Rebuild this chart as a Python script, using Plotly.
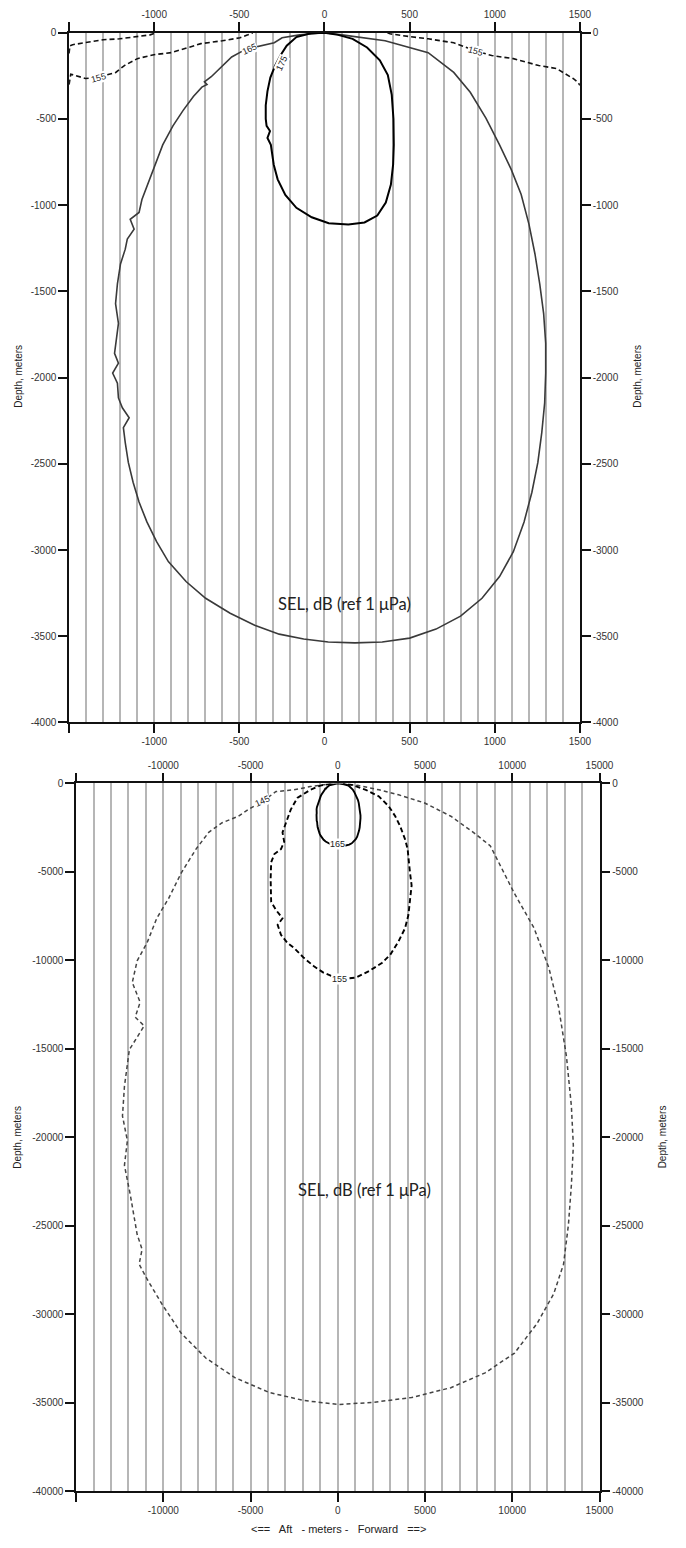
import plotly.graph_objects as go

# ---------------- upper panel: near field (metres) ----------------
# 175 dB contour (closed, solid)
x175 = [0, 80, 165, 250, 325, 372, 395, 405, 407, 403, 390, 360, 310, 235, 140, 25,
        -75, -165, -230, -275, -298, -310, -315, -335, -320, -340, -345, -345, -335,
        -318, -290, -258, -222, -165, -80, 0]
d175 = [0, -12, -35, -85, -160, -245, -360, -500, -650, -765, -880, -985, -1060, -1100,
        -1112, -1105, -1070, -1015, -940, -850, -765, -700, -650, -610, -570, -540, -500,
        -420, -340, -260, -190, -130, -75, -25, -3, 0]

# 165 dB contour (closed, solid)
x165 = [0, 103, 356, 609, 759, 856, 948, 1028, 1097, 1155, 1201, 1236, 1264, 1287, 1299,
        1299, 1293, 1276, 1253, 1218, 1172, 1109, 1028, 925, 799, 655, 500, 339, 178, 22,
        -122, -266, -410, -554, -698, -813, -917, -986, -1043, -1089, -1124, -1152, -1170,
        -1181, -1147, -1187, -1210, -1216, -1244, -1210, -1233, -1221, -1210, -1227, -1216,
        -1198, -1170, -1158, -1118, -1141, -1089, -1072, -1035, -995, -950, -890, -830,
        -770, -720, -690, -705, -665, -610, -545, -480, -421, -295, -249, -146, 0]
d165 = [0, -12, -46, -115, -230, -345, -495, -650, -794, -938, -1111, -1283, -1456, -1629,
        -1801, -1974, -2147, -2319, -2492, -2665, -2837, -3010, -3154, -3280, -3384, -3459,
        -3511, -3534, -3539, -3534, -3516, -3488, -3436, -3367, -3280, -3183, -3067, -2952,
        -2837, -2722, -2607, -2492, -2377, -2290, -2233, -2175, -2118, -2032, -1974, -1916,
        -1859, -1773, -1686, -1571, -1456, -1341, -1255, -1197, -1139, -1082, -1042, -967,
        -870, -760, -650, -540, -450, -370, -315, -300, -285, -255, -200, -140, -105, -86,
        -58, -29, -12, 0]

# 155 dB contour, surface-bounded pieces
x155_a = [-1500, -1495, -1479, -1404, -1300, -1203, -1099, -1024, -990]
d155_a = [-120, -75, -69, -58, -40, -35, -23, -12, 0]
x155_b = [-1500, -1490, -1404, -1330, -1226, -1175, -1099, -1002, -899, -824, -726,
          -600, -496, -450, -421]
d155_b = [-300, -240, -265, -259, -230, -190, -150, -127, -115, -92, -63, -46, -29, -12, 0]
x155_c = [370, 385, 506, 609, 759, 884, 982, 1109, 1258, 1362, 1460, 1489, 1500]
d155_c = [0, -6, -23, -35, -58, -104, -132, -150, -190, -207, -265, -288, -305]

# ---------------- lower panel: far field (metres) ----------------
# 145 dB contour
x145 = [-300, -657, -1573, -2511, -3540, -4309, -5135, -5697, -6629, -7399, -8129, -8972,
        -9702, -10376, -10938, -11500, -11781, -11331, -11612, -11100, -11949, -12230,
        -12343, -12062, -12230, -11893, -11500, -11218, -11387, -10938, -10095, -8972,
        -7568, -5882, -3916, -1949, 17, 1983, 4230, 6478, 8444, 10129, 11421, 12376, 12938,
        13219, 13388, 13500, 13388, 13107, 12657, 12096, 11253, 10129, 8742, 7787, 6478,
        4978, 3483, 2360, 1200, 300]
d145 = [-10, -47, -177, -363, -457, -1016, -1479, -1853, -2222, -2763, -3712, -5052, -6504,
        -7620, -9016, -10021, -11249, -12366, -13203, -13700, -15045, -17111, -18786,
        -20182, -21578, -23253, -25486, -26324, -27161, -27998, -29394, -31069, -32464,
        -33581, -34418, -34865, -35088, -34977, -34698, -34140, -33302, -32186, -30511,
        -28836, -27161, -24928, -22695, -20462, -18229, -15437, -12646, -10413, -8180,
        -6226, -3528, -2780, -1853, -1105, -642, -363, -120, -10]

# 155 dB contour
x155 = [-400, -1000, -1573, -2326, -2697, -2888, -3169, -3073, -3258, -3635, -3820, -3850,
        -3820, -3539, -3169, -3449, -3258, -2888, -2511, -1949, -1388, -826, 112, 1045,
        1798, 2545, 3011, 3483, 3854, 4045, 4135, 4230, 4135, 4045, 4000, 3854, 3573, 3292,
        2921, 2360, 1607, 800, 300]
d155 = [-20, -120, -363, -826, -1479, -2038, -2763, -3300, -3712, -3991, -4455, -5387,
        -6688, -7157, -7620, -7994, -8552, -9016, -9295, -9853, -10316, -10690, -11065,
        -10970, -10596, -10132, -9669, -8921, -8178, -7436, -6504, -5761, -5013, -4271,
        -3700, -3154, -2412, -1853, -1295, -737, -363, -80, -10]

# ---------------- tick labels ----------------
near_xticks = [-1500, -1000, -500, 0, 500, 1000, 1500]
near_xtext = ["", "-1000", "-500", "0", "500", "1000", "1500"]
near_yticks = [0, -500, -1000, -1500, -2000, -2500, -3000, -3500, -4000]
near_ytext = ["0", "-500", "-1000", "-1500", "-2000", "-2500", "-3000", "-3500", "-4000"]
far_xticks = [-15000, -10000, -5000, 0, 5000, 10000, 15000]
far_xtext = ["", "-10000", "-5000", "0", "5000", "10000", "15000"]
far_yticks = [0, -5000, -10000, -15000, -20000, -25000, -30000, -35000, -40000]
far_ytext = ["0", "-5000", "-10000", "-15000", "-20000", "-25000", "-30000", "-35000", "-40000"]

W, H = 686, 1548
GRID = "#b6b6b6"
TICKFONT = dict(family="Liberation Sans Narrow, Liberation Sans, Arial", size=10, color="#333")

fig = go.Figure()


def line(x, y, ax, color, width, dash="solid"):
    xa, ya = ax
    fig.add_trace(go.Scatter(x=x, y=y, mode="lines", xaxis=xa, yaxis=ya,
                             line=dict(color=color, width=width, dash=dash),
                             hoverinfo="skip", showlegend=False))


# upper panel
line(x155_a, d155_a, ("x", "y"), "#111", 1.6, "5px,3px")
line(x155_b, d155_b, ("x", "y"), "#111", 1.6, "5px,3px")
line(x155_c, d155_c, ("x", "y"), "#111", 1.6, "5px,3px")
line(x165, d165, ("x", "y"), "#3a3a3a", 1.6)
line(x175, d175, ("x", "y"), "#000", 2)
fig.add_trace(go.Scatter(x=[None], y=[None], xaxis="x2", yaxis="y2", showlegend=False))

# lower panel
line(x145, d145, ("x3", "y3"), "#444", 1.5, "4px,3px")
line(x155, d155, ("x3", "y3"), "#000", 1.9, "5px,3px")
line(x165, d165, ("x3", "y3"), "#000", 1.9)
fig.add_trace(go.Scatter(x=[None], y=[None], xaxis="x4", yaxis="y4", showlegend=False))


def xax(rng, dom, vals, text, grid_step, side, anchor, overlay=None):
    d = dict(range=rng, tickmode="array", tickvals=vals, ticktext=text, ticks="outside",
             ticklen=9, tickwidth=1.5, tickcolor="#111", showline=True, linecolor="#111",
             linewidth=1.5, zeroline=False, side=side, anchor=anchor, tickfont=TICKFONT,
             fixedrange=True)
    if overlay:
        d.update(overlaying=overlay, showgrid=False)
    else:
        d.update(domain=dom, showgrid=True, gridcolor=GRID, gridwidth=1.5,
                 minor=dict(tickmode="array",
                            tickvals=list(range(int(rng[0]), int(rng[1]) + 1, grid_step)),
                            showgrid=True, gridcolor=GRID, gridwidth=1.5, ticks=""))
    return d


def yax(rng, dom, vals, text, side, anchor, overlay=None):
    d = dict(range=rng, tickmode="array", tickvals=vals, ticktext=text, ticks="outside",
             ticklen=9, tickwidth=1.5, tickcolor="#111", showline=True, linecolor="#111",
             linewidth=1.5, zeroline=False, showgrid=False, side=side, anchor=anchor,
             tickfont=TICKFONT, fixedrange=True)
    if overlay:
        d.update(overlaying=overlay)
    else:
        d.update(domain=dom)
    return d


dx1 = [70.5 / W, 592 / W]
dy1 = [1 - 722 / H, 1 - 27 / H]
dx2 = [77.7 / W, 612 / W]
dy2 = [1 - 1497 / H, 1 - 783.5 / H]

fig.update_layout(
    width=W, height=H, margin=dict(l=0, r=0, t=0, b=0),
    paper_bgcolor="white", plot_bgcolor="white",
    xaxis=xax([-1500, 1500], dx1, near_xticks, near_xtext, 100, "bottom", "y"),
    xaxis2=xax([-1500, 1500], dx1, near_xticks, near_xtext, 100, "top", "y", overlay="x"),
    yaxis=yax([-4000, 0], dy1, near_yticks, near_ytext, "left", "x"),
    yaxis2=yax([-4000, 0], dy1, near_yticks, near_ytext, "right", "x", overlay="y"),
    xaxis3=xax([-15000, 15000], dx2, far_xticks, far_xtext, 1000, "bottom", "y3"),
    xaxis4=xax([-15000, 15000], dx2, far_xticks, far_xtext, 1000, "top", "y3", overlay="x3"),
    yaxis3=yax([-40000, 0], dy2, far_yticks, far_ytext, "left", "x3"),
    yaxis4=yax([-40000, 0], dy2, far_yticks, far_ytext, "right", "x3", overlay="y3"),
)

LBL = dict(family="Liberation Sans Narrow, Liberation Sans, Arial", size=9, color="#222")


def tag(text, x, y, xr, yr, angle=0):
    fig.add_annotation(text=text, x=x, y=y, xref=xr, yref=yr, showarrow=False,
                       textangle=angle, font=LBL, bgcolor="white", borderpad=0)


# contour level labels
tag("175", -250, -175, "x", "y", -65)
tag("165", -440, -95, "x", "y", -25)
tag("155", -1330, -262, "x", "y", -15)
tag("155", 884, -104, "x", "y", 15)
tag("165", 0, -3450, "x3", "y3")
tag("155", 112, -11065, "x3", "y3")
tag("145", -4309, -1016, "x3", "y3", -25)

SEL = dict(family="Lato, Open Sans, sans-serif", size=16.5, color="#222")
fig.add_annotation(text="SEL, dB (ref 1 μPa)", x=120, y=-3315, xref="x", yref="y",
                   showarrow=False, font=SEL)
fig.add_annotation(text="SEL, dB (ref 1 μPa)", x=1530, y=-22970, xref="x3", yref="y3",
                   showarrow=False, font=SEL)

TITLE = dict(family="Liberation Sans, Arial", size=10, color="#222")
for px, py in [(18, 373), (650, 373), (18, 1140), (676, 1140)]:
    fig.add_annotation(text="Depth, meters", x=px / W, y=1 - py / H, xref="paper",
                       yref="paper", showarrow=False, textangle=-90, font=TITLE,
                       xanchor="center", yanchor="middle")
fig.add_annotation(text="<==   Aft   - meters -   Forward   ==>", x=346 / W, y=1 - 1535 / H,
                   xref="paper", yref="paper", showarrow=False, xanchor="center",
                   yanchor="middle",
                   font=dict(family="Liberation Sans, Arial", size=11, color="#222"))

fig.write_html("out.html")
